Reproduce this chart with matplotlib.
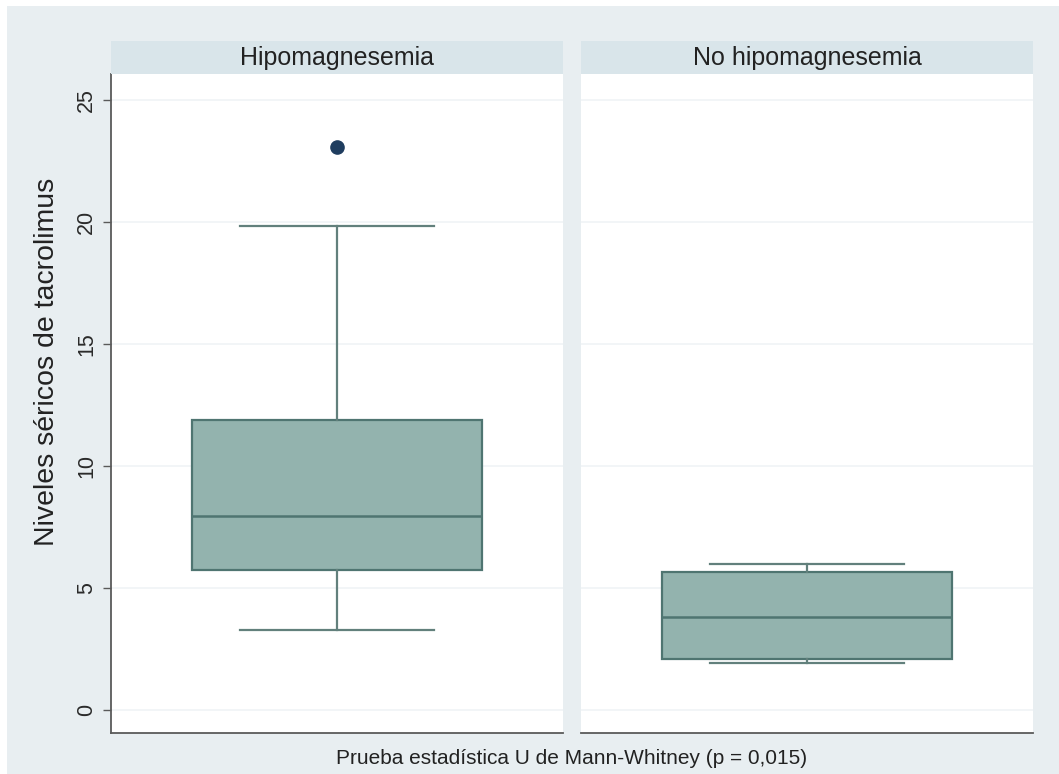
import matplotlib.pyplot as plt
from matplotlib.patches import Rectangle

plt.rcParams['font.family'] = ['Liberation Sans', 'DejaVu Sans']

# Datos (niveles de tacrolimus por grupo)
grupos = ['Hipomagnesemia', 'No hipomagnesemia']
q1 = [5.71, 2.09]
mediana = [7.93, 3.80]
q3 = [11.89, 5.64]
bigote_inf = [3.25, 1.93]
bigote_sup = [19.82, 5.96]
atipicos = [[23.04], []]
yticks = [0, 5, 10, 15, 20, 25]

W, H = 1059, 774
FONDO = '#e8eef1'
TIRA = '#d9e5ea'
RELLENO = '#93b3ae'
BORDE = '#4f7571'
BIGOTE = '#62807c'
EJE = '#5a5a5a'

fig = plt.figure(figsize=(W / 100, H / 100), dpi=100, facecolor='white')
fig.patches.append(Rectangle((7 / W, 0), 1 - 7 / W, 1 - 6 / H,
                             transform=fig.transFigure, facecolor=FONDO,
                             edgecolor='none', zorder=-10))

paneles = [111, 581]
ancho = 452
for i, izq in enumerate(paneles):
    ax = fig.add_axes([izq / W, (H - 733) / H, ancho / W, 659 / H])
    ax.set_facecolor('white')
    stats = [{
        'med': mediana[i], 'q1': q1[i], 'q3': q3[i],
        'whislo': bigote_inf[i], 'whishi': bigote_sup[i],
        'fliers': atipicos[i],
    }]
    ax.bxp(stats, positions=[0.5], widths=0.64, capwidths=0.427,
           patch_artist=True, showfliers=True,
           boxprops=dict(facecolor=RELLENO, edgecolor=BORDE, linewidth=1.6),
           medianprops=dict(color=BORDE, linewidth=1.8),
           whiskerprops=dict(color=BIGOTE, linewidth=1.6),
           capprops=dict(color=BIGOTE, linewidth=1.6),
           flierprops=dict(marker='o', markerfacecolor='#1f3d5f',
                           markeredgecolor='#1f3d5f', markersize=9.5))
    ax.set_xlim(0, 1)
    ax.set_ylim(-0.95, 26.05)
    ax.set_xticks([])
    ax.set_yticks(yticks)
    ax.yaxis.grid(True, color='#f0f4f6', linewidth=1.2)
    ax.set_axisbelow(True)
    for s in ['top', 'right']:
        ax.spines[s].set_visible(False)
    ax.spines['bottom'].set_color(EJE)
    ax.spines['bottom'].set_linewidth(1.3)
    if i == 0:
        ax.spines['left'].set_color(EJE)
        ax.spines['left'].set_linewidth(1.3)
        ax.tick_params(axis='y', length=6, width=1, color=EJE, pad=4,
                       labelsize=15.5, labelcolor='#2a2a2a')
        for t in ax.get_yticklabels():
            t.set_rotation(90)
            t.set_va('center')
    else:
        ax.spines['left'].set_visible(False)
        ax.tick_params(axis='y', length=0, labelleft=False)

    # tira con el nombre del grupo
    tira = fig.add_axes([izq / W, (H - 74) / H, ancho / W, 33 / H])
    tira.set_facecolor(TIRA)
    tira.set_xticks([])
    tira.set_yticks([])
    for s in tira.spines.values():
        s.set_visible(False)
    tira.text(0.5, 0.5, grupos[i], ha='center', va='center',
              fontsize=18, color='#222222', transform=tira.transAxes)

fig.text(47 / W, 1 - 362 / H, 'Niveles séricos de tacrolimus', rotation=90,
         ha='center', va='center', fontsize=20.5, color='#222222')
fig.text(572 / W, 1 - 759 / H,
         'Prueba estadística U de Mann-Whitney (p = 0,015)',
         ha='center', va='center', fontsize=15, color='#222222')

fig.savefig('out.png', dpi=100, facecolor=fig.get_facecolor())
